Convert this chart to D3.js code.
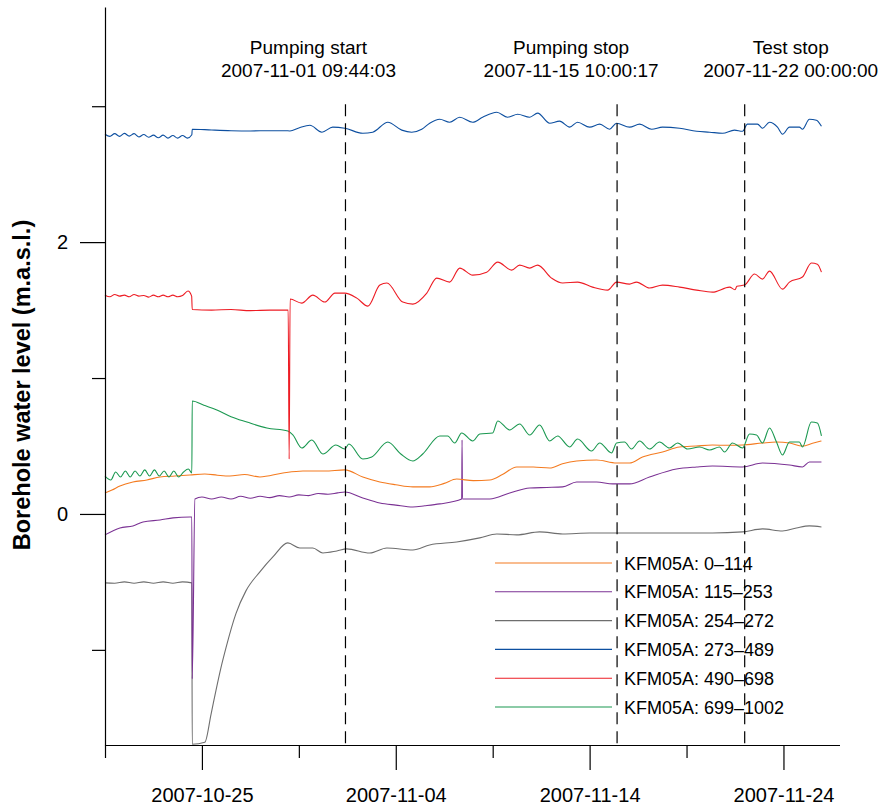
<!DOCTYPE html>
<html>
<head>
<meta charset="utf-8">
<script src="https://cdn.jsdelivr.net/npm/d3@7"></script>
<style>
  html, body { margin: 0; padding: 0; background: #fff; }
  svg { display: block; font-family: "Liberation Sans", Arial, sans-serif; }
</style>
</head>
<body>
<svg id="chart" width="880" height="807"></svg>
<script>
// ---------------- DATA ----------------
const startDate = "2007-10-20 00:00:00";   // day 0 of the series arrays
const endDate = "2007-11-26 22:00:00";     // right end of x axis

const seriesNames = ["KFM05A: 0\u2013114", "KFM05A: 115\u2013253", "KFM05A: 254\u2013272",
                     "KFM05A: 273\u2013489", "KFM05A: 490\u2013698", "KFM05A: 699\u20131002"];
const seriesColors = ["#f47b20", "#7b3294", "#6e6e6e", "#0d4fa0", "#ed1c24", "#1a9850"];

// [days since startDate, borehole water level (m.a.s.l.)]
const s0_114 = [[0,0.154],[0.36,0.176],[0.77,0.206],[1.44,0.235],[2.16,0.25],[2.84,0.272],[3.61,0.279],[4.38,0.287],[5.15,0.294],[5.8,0.285],[6.44,0.279],[7.2,0.29],[7.99,0.272],[9.18,0.301],[10.21,0.316],[11.34,0.316],[12.37,0.324],[13.3,0.272],[14.18,0.235],[15.0,0.215],[15.88,0.199],[16.75,0.199],[17.5,0.225],[18.14,0.257],[19.0,0.245],[19.85,0.25],[20.5,0.29],[21.24,0.346],[22.1,0.345],[22.94,0.338],[23.6,0.37],[24.33,0.39],[25.36,0.397],[26.39,0.375],[27.06,0.375],[27.73,0.419],[28.76,0.456],[29.64,0.493],[30.5,0.5],[31.34,0.507],[32.1,0.505],[32.89,0.507],[33.92,0.522],[34.64,0.529],[35.31,0.522],[35.98,0.5],[36.5,0.52],[36.96,0.537]];

const s115_253 = [[0,-0.154],[0.77,-0.103],[1.44,-0.088],[1.96,-0.059],[2.84,-0.044],[3.51,-0.029],[4.38,-0.022],[4.48,-0.022],[4.5,-1.213],[4.64,0.11],[5.0,0.125],[5.5,0.11],[6.0,0.125],[6.5,0.11],[7.0,0.13],[7.5,0.115],[8.0,0.13],[8.5,0.12],[9.0,0.135],[9.5,0.125],[10.0,0.14],[10.5,0.135],[11.0,0.15],[11.5,0.145],[12.0,0.155],[12.37,0.162],[13.3,0.118],[14.18,0.081],[15.0,0.065],[15.88,0.051],[16.5,0.06],[17.27,0.074],[18.4,0.11],[18.42,0.544],[18.44,0.11],[19.85,0.11],[20.88,0.154],[21.91,0.191],[22.8,0.195],[23.61,0.199],[24.33,0.235],[25.36,0.235],[26.19,0.221],[27.06,0.221],[28.09,0.272],[29.48,0.331],[30.52,0.346],[31.34,0.353],[32.89,0.346],[33.92,0.375],[35.31,0.36],[35.98,0.346],[36.34,0.382],[36.96,0.382]];

const s254_272 = [[0,-0.507],[0.5,-0.51],[1,-0.5],[1.5,-0.51],[2,-0.5],[2.5,-0.51],[3,-0.5],[3.5,-0.51],[4,-0.5],[4.48,-0.507],[4.5,-1.695],[5.15,-1.68],[5.47,-1.474],[5.72,-1.301],[5.98,-1.132],[6.24,-0.985],[6.75,-0.735],[7.27,-0.566],[7.99,-0.426],[8.66,-0.316],[9.43,-0.213],[10.05,-0.25],[10.72,-0.25],[11.24,-0.287],[11.96,-0.272],[12.47,-0.257],[13.66,-0.287],[14.54,-0.25],[15.88,-0.265],[16.75,-0.228],[18.14,-0.206],[19.33,-0.176],[20.21,-0.147],[21.24,-0.154],[22.42,-0.132],[23.61,-0.147],[25.0,-0.14],[26.39,-0.14],[27.94,-0.14],[29.64,-0.14],[31.34,-0.14],[32.89,-0.132],[33.92,-0.11],[34.95,-0.125],[35.67,-0.103],[36.34,-0.088],[36.96,-0.096]];

const s273_489 = [[0,2.794],[0.25,2.778],[0.5,2.798],[0.75,2.778],[1.0,2.8],[1.25,2.78],[1.5,2.798],[1.75,2.774],[2.0,2.792],[2.25,2.772],[2.5,2.787],[2.75,2.768],[3.0,2.787],[3.25,2.765],[3.5,2.785],[3.75,2.765],[4.0,2.785],[4.25,2.765],[4.48,2.79],[4.5,2.831],[5.5,2.825],[6.5,2.82],[7.5,2.818],[8.5,2.82],[9.3,2.82],[9.54,2.818],[10.0,2.84],[10.57,2.86],[11.19,2.809],[11.75,2.846],[12.37,2.838],[13.3,2.801],[13.81,2.809],[14.59,2.882],[15.31,2.824],[15.82,2.809],[16.34,2.831],[16.75,2.875],[17.27,2.904],[17.78,2.882],[18.3,2.919],[18.97,2.882],[19.48,2.919],[20.21,2.956],[20.77,2.919],[21.29,2.941],[21.91,2.919],[22.32,2.949],[22.94,2.875],[23.45,2.89],[23.97,2.846],[24.38,2.882],[25.0,2.846],[25.52,2.868],[26.03,2.831],[26.39,2.875],[27.06,2.846],[27.58,2.868],[28.2,2.831],[28.76,2.846],[29.64,2.838],[30.52,2.816],[31.19,2.809],[31.86,2.801],[32.47,2.824],[32.89,2.816],[33.14,2.868],[33.66,2.868],[33.92,2.838],[34.28,2.882],[34.69,2.846],[34.95,2.794],[35.31,2.846],[35.82,2.846],[35.98,2.831],[36.34,2.904],[36.7,2.897],[36.96,2.853]];

const s490_698 = [[0,1.61],[0.25,1.598],[0.5,1.615],[0.75,1.603],[1.0,1.61],[1.25,1.598],[1.5,1.615],[1.75,1.603],[2.0,1.607],[2.25,1.595],[2.5,1.61],[2.75,1.598],[3.0,1.61],[3.25,1.598],[3.5,1.61],[3.75,1.598],[4.0,1.607],[4.28,1.64],[4.47,1.603],[4.5,1.504],[5.5,1.5],[6.5,1.504],[7.5,1.496],[8.5,1.5],[9.45,1.5],[9.5,0.404],[9.55,1.581],[10.15,1.551],[10.72,1.61],[11.34,1.559],[11.86,1.625],[12.37,1.625],[12.99,1.588],[13.56,1.529],[14.18,1.684],[14.54,1.699],[15.36,1.559],[15.88,1.544],[16.6,1.625],[17.11,1.735],[17.78,1.706],[18.3,1.809],[18.97,1.757],[19.69,1.779],[20.26,1.853],[20.98,1.794],[21.39,1.831],[21.91,1.809],[22.32,1.831],[23.04,1.735],[23.61,1.699],[24.38,1.706],[25.15,1.669],[25.93,1.647],[26.39,1.706],[27.06,1.691],[27.42,1.706],[28.09,1.662],[28.76,1.684],[29.64,1.669],[30.52,1.647],[31.34,1.632],[32.22,1.669],[32.5,1.65],[32.6,1.675],[32.99,1.684],[33.51,1.765],[33.92,1.728],[34.28,1.787],[34.95,1.654],[35.31,1.706],[35.98,1.743],[36.44,1.846],[36.75,1.838],[36.96,1.779]];

const s699_1002 = [[0,0.279],[0.3,0.25],[0.55,0.309],[0.8,0.272],[1.05,0.316],[1.3,0.272],[1.55,0.316],[1.8,0.279],[2.05,0.324],[2.3,0.279],[2.55,0.324],[2.8,0.279],[3.05,0.316],[3.3,0.272],[3.55,0.316],[3.8,0.272],[4.05,0.309],[4.3,0.331],[4.48,0.301],[4.5,0.831],[5.1,0.8],[5.77,0.765],[6.5,0.715],[7.32,0.676],[8.35,0.632],[9.43,0.61],[9.69,0.581],[10.15,0.485],[10.67,0.544],[11.24,0.441],[11.91,0.507],[12.37,0.478],[12.58,0.515],[13.3,0.404],[13.76,0.419],[14.59,0.529],[15.26,0.441],[15.88,0.39],[16.39,0.441],[17.27,0.574],[17.68,0.574],[18.04,0.522],[18.4,0.596],[18.97,0.537],[19.33,0.588],[20.0,0.596],[20.26,0.684],[20.88,0.618],[21.39,0.662],[21.91,0.581],[22.42,0.654],[22.94,0.537],[23.35,0.574],[23.97,0.493],[24.38,0.551],[25.1,0.463],[25.52,0.522],[26.13,0.449],[26.39,0.522],[26.8,0.529],[27.16,0.478],[27.58,0.537],[28.09,0.478],[28.61,0.529],[29.12,0.485],[29.54,0.522],[30.05,0.478],[30.67,0.493],[31.19,0.471],[31.7,0.493],[31.96,0.456],[32.37,0.522],[32.89,0.485],[33.25,0.588],[33.61,0.581],[33.92,0.522],[34.28,0.632],[34.64,0.529],[34.95,0.434],[35.31,0.529],[35.82,0.529],[35.98,0.493],[36.44,0.676],[36.75,0.669],[36.96,0.574]];

const seriesData = [s0_114, s115_253, s254_272, s273_489, s490_698, s699_1002];
const drawOrder = [2, 1, 0, 5, 4, 3];

const eventNames = ["Pumping start", "Pumping stop", "Test stop"];
const eventStamps = ["2007-11-01 09:44:03", "2007-11-15 10:00:17", "2007-11-22 00:00:00"];

const xMajorTicks = ["2007-10-25", "2007-11-04", "2007-11-14", "2007-11-24"];
const xMinorTicks = ["2007-10-20", "2007-10-30", "2007-11-09", "2007-11-19"];
const yTicks = [-1, 0, 1, 2, 3];
const yLabelled = [0, 2];
const yDomain = [-1.7, 3.73];
const yTitle = "Borehole water level (m.a.s.l.)";

// ---------------- LAYOUT ----------------
const plotLeft = 105, plotRight = 840, plotTop = 7, plotBottom = 745;
const eventLabelOffsets = [-37, -46, 46];

const parseTime = d3.utcParse("%Y-%m-%d %H:%M:%S");
const parseDay = d3.utcParse("%Y-%m-%d");
const t0 = parseTime(startDate);
const dayToDate = d => new Date(t0.getTime() + d * 864e5);

const svg = d3.select("#chart");
const x = d3.scaleUtc().domain([t0, parseTime(endDate)]).range([plotLeft, plotRight]);
const y = d3.scaleLinear().domain(yDomain).range([plotBottom, plotTop]);

// series lines
const line = d3.line().curve(d3.curveMonotoneX).x(p => x(dayToDate(p[0]))).y(p => y(p[1]));
const gLines = svg.append("g");
drawOrder.forEach(i => {
  gLines.append("path")
    .datum(seriesData[i])
    .attr("fill", "none")
    .attr("stroke", seriesColors[i])
    .attr("stroke-width", 1.1)
    .attr("stroke-linejoin", "round")
    .attr("d", line);
});

// event dashed lines + labels
const eventTimes = eventStamps.map(parseTime);
const evTop = y(3) - 2;
svg.append("g").selectAll("line").data(eventTimes).join("line")
  .attr("x1", d => x(d)).attr("x2", d => x(d))
  .attr("y1", evTop).attr("y2", plotBottom)
  .attr("stroke", "#000").attr("stroke-width", 1.2)
  .attr("stroke-dasharray", "12,7");

const gEv = svg.append("g").attr("font-size", 19).attr("text-anchor", "middle").attr("fill", "#000");
eventTimes.forEach((t, i) => {
  const cx = x(t) + eventLabelOffsets[i];
  gEv.append("text").attr("x", cx).attr("y", 54).text(eventNames[i]);
  gEv.append("text").attr("x", cx).attr("y", 77).text(eventStamps[i]);
});

// x axis
const fmt = d3.utcFormat("%Y-%m-%d");
const xMajor = svg.append("g").attr("transform", `translate(0,${plotBottom})`)
  .call(d3.axisBottom(x).tickValues(xMajorTicks.map(parseDay)).tickSize(25).tickPadding(18).tickFormat(fmt));
const xMinor = svg.append("g").attr("transform", `translate(0,${plotBottom})`)
  .call(d3.axisBottom(x).tickValues(xMinorTicks.map(parseDay)).tickSize(13).tickFormat(""));
xMinor.select(".domain").remove();
xMajor.select(".domain").attr("d", `M${plotLeft},0.5H${plotRight}`);

// y axis
const yAx = svg.append("g").attr("transform", `translate(${plotLeft},0)`)
  .call(d3.axisLeft(y).tickValues(yTicks).tickSizeOuter(0).tickPadding(15)
    .tickFormat(v => yLabelled.includes(v) ? String(v) : ""));
yAx.selectAll(".tick line").attr("x2", v => yLabelled.includes(v) ? -25 : -13);
yAx.selectAll(".tick text").attr("x", -37);

[xMajor, xMinor, yAx].forEach(g => {
  g.selectAll("text").attr("font-size", 20).attr("font-family", "Liberation Sans, Arial, sans-serif").attr("fill", "#000");
  g.selectAll("line, path").attr("stroke", "#000").attr("stroke-width", 1.2);
});

// y title
svg.append("text")
  .attr("transform", `translate(30,${385}) rotate(-90)`)
  .attr("text-anchor", "middle")
  .attr("font-size", 23.5).attr("font-weight", "bold")
  .text(yTitle);

// legend
const legX1 = 495, legX2 = 612, legTextX = 624, legY0 = 563, legDy = 28.8;
const gLeg = svg.append("g");
seriesNames.forEach((name, i) => {
  const ly = legY0 + i * legDy;
  gLeg.append("line").attr("x1", legX1).attr("x2", legX2).attr("y1", ly).attr("y2", ly)
    .attr("stroke", seriesColors[i]).attr("stroke-width", 1.1);
  gLeg.append("text").attr("x", legTextX).attr("y", ly + 6.5).attr("font-size", 18).text(name);
});
</script>
</body>
</html>
